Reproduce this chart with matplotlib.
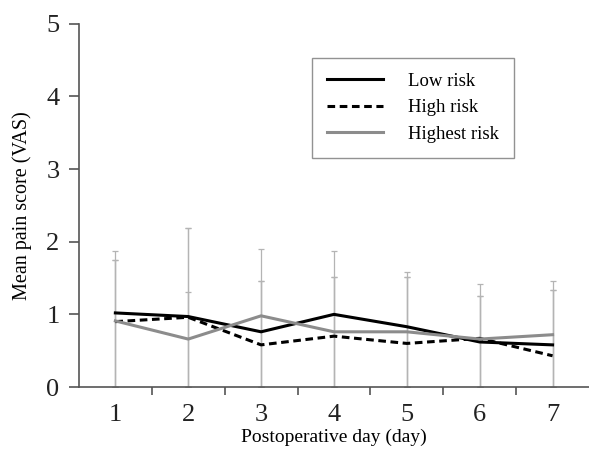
import matplotlib
matplotlib.use('Agg')
import matplotlib.pyplot as plt
import numpy as np

days = [1, 2, 3, 4, 5, 6, 7]
low_risk = [1.02, 0.97, 0.76, 1.00, 0.83, 0.62, 0.58]
high_risk = [0.90, 0.96, 0.58, 0.70, 0.60, 0.67, 0.43]
highest_risk = [0.91, 0.66, 0.98, 0.76, 0.76, 0.66, 0.72]
low_sd = [0.85, 1.22, 0.70, 0.87, 0.75, 0.63, 0.75]
high_sd = [0.85, 1.23, 0.88, 0.81, 0.92, 0.75, 0.90]
highest_sd = [0.84, 0.65, 0.92, 0.75, 0.76, 0.59, 0.74]

plt.rcParams['font.family'] = ['Liberation Serif', 'DejaVu Serif']

fig = plt.figure(figsize=(5.89, 4.58), dpi=100)
ax = fig.add_axes([0.134, 0.155, 0.866, 0.793])

ebc = '#b4b4b4'
series = [
    (low_risk, low_sd, 'Low risk', dict(color='black', ls='-')),
    (high_risk, high_sd, 'High risk', dict(color='black', ls=(0, (2.5, 1.5)))),
    (highest_risk, highest_sd, 'Highest risk', dict(color='#8c8c8c', ls='-')),
]
# error bars first (upper sd, line down to the axis)
for vals, sd, name, st in series:
    ax.errorbar(days, vals, yerr=[vals, sd], fmt='none', ecolor=ebc,
                elinewidth=0.9, capsize=2.5, capthick=0.9, zorder=1)
for vals, sd, name, st in series:
    ax.plot(days, vals, lw=2.2, label=name, zorder=3, **st)

ax.set_xlim(0.5, 7.5)
ax.set_ylim(0, 5)
ax.set_yticks([0, 1, 2, 3, 4, 5])
ax.set_xticks(days)
ax.set_xticks([1.5, 2.5, 3.5, 4.5, 5.5, 6.5], minor=True)
ax.tick_params(axis='x', which='major', length=0, labelsize=19, pad=12, colors='#222222')
ax.tick_params(axis='x', which='minor', length=6, width=1.2, color='#555555')
ax.tick_params(axis='y', length=7, width=1.2, labelsize=19, pad=7, colors='#222222')
ax.tick_params(axis='y', color='#555555')

for s in ['top', 'right']:
    ax.spines[s].set_visible(False)
for s in ['left', 'bottom']:
    ax.spines[s].set_color('#555555')
    ax.spines[s].set_linewidth(1.2)

ax.set_ylabel('Mean pain score (VAS)', fontsize=14.5, labelpad=10)
ax.set_xlabel('Postoperative day (day)', fontsize=14, labelpad=2)

leg = ax.legend(loc='upper left', bbox_to_anchor=(0.457, 0.907), fontsize=13.5,
                fancybox=False, edgecolor='#777777', handlelength=3.0,
                handletextpad=1.3, borderpad=0.8, labelspacing=0.5,
                borderaxespad=0)
leg.get_frame().set_linewidth(1.0)

fig.savefig('out.png', dpi=100)
